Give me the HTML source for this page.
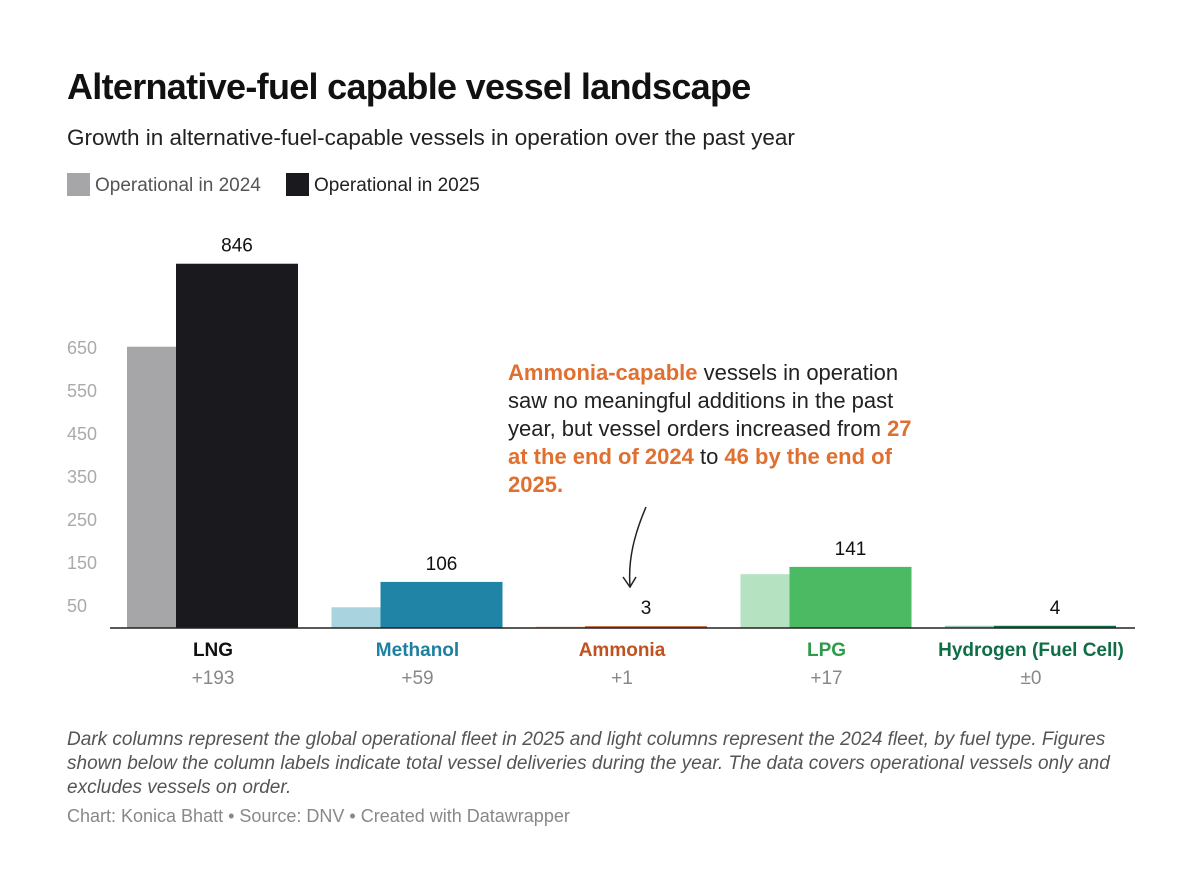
<!DOCTYPE html>
<html><head><meta charset="utf-8"><style>
body{margin:0;background:#fff;font-family:"Liberation Sans",sans-serif;}
#wrap{position:relative;width:1200px;height:894px;overflow:hidden;}
.t{position:absolute;white-space:nowrap;}
</style></head><body>
<div id="wrap">
<div class="t" style="left:67px;top:66px;font-size:36px;font-weight:bold;color:#111;letter-spacing:-0.7px">Alternative-fuel capable vessel landscape</div>
<div class="t" style="left:67px;top:125px;font-size:22.5px;color:#222">Growth in alternative-fuel-capable vessels in operation over the past year</div>
<div class="t" style="left:67px;top:173px;font-size:19px;color:#555"><span style="display:inline-block;width:23px;height:23px;background:#a6a6a8;vertical-align:-5px;margin-right:5px"></span>Operational in 2024</div>
<div class="t" style="left:286px;top:173px;font-size:19px;color:#222"><span style="display:inline-block;width:23px;height:23px;background:#1a1a1e;vertical-align:-5px;margin-right:5px"></span>Operational in 2025</div>
<svg id="chart" width="1200" height="894" style="position:absolute;left:0;top:0"></svg>
<div class="t" style="left:508px;top:359px;font-size:22px;line-height:28px;color:#222;white-space:normal;width:425px"><b style="color:#e07030">Ammonia-capable</b> vessels in operation saw no meaningful additions in the past year, but vessel orders increased from <b style="color:#e07030">27 at the end of 2024</b> to <b style="color:#e07030">46 by the end of 2025.</b></div>
<div class="t" style="left:67px;top:728px;width:1075px;white-space:normal;font-size:19px;line-height:24px;font-style:italic;color:#555">Dark columns represent the global operational fleet in 2025 and light columns represent the 2024 fleet, by fuel type. Figures shown below the column labels indicate total vessel deliveries during the year. The data covers operational vessels only and excludes vessels on order.</div>
<div class="t" style="left:67px;top:806px;font-size:18px;color:#888">Chart: Konica Bhatt • Source: DNV • Created with Datawrapper</div>
</div>
<script>
const categories=["LNG","Methanol","Ammonia","LPG","Hydrogen (Fuel Cell)"];
const values2024=[653,47,2,124,4];
const values2025=[846,106,3,141,4];
const deltas=["+193","+59","+1","+17","±0"];
const yTicks=[50,150,250,350,450,550,650];
const lightColors=["#a6a6a8","#a9d3de","#e8b9a0","#b5e2c1","#9cc9b3"];
const darkColors=["#1a1a1e","#1f84a5","#c1521f","#4cb963","#0f6e45"];
const labelColors=["#111","#1f7fa0","#c1521f","#2e9b4a","#0f6e45"];
const NS="http://www.w3.org/2000/svg";
const svg=document.getElementById("chart");
const y=v=>627.5-v*0.43;
const gx=i=>127+i*204.5;
function mk(tag,attrs,text){const e=document.createElementNS(NS,tag);for(const k in attrs)e.setAttribute(k,attrs[k]);if(text!==undefined)e.textContent=text;svg.appendChild(e);return e;}
yTicks.forEach(t=>{const e=mk("text",{x:67,y:y(t)+6,"font-size":18,fill:"#aaa","font-family":"Liberation Sans, sans-serif"},t);

});
categories.forEach((c,i)=>{
 const x=gx(i);
 const b1=mk("rect",{x:x,y:y(values2024[i]),width:49,height:Math.max(627.5-y(values2024[i]),1),fill:lightColors[i]});
 
 
 const b2=mk("rect",{x:x+49,y:y(values2025[i]),width:122,height:Math.max(627.5-y(values2025[i]),1.5),fill:darkColors[i]});
 
 
 const v=mk("text",{x:x+110,y:y(values2025[i])-12,"font-size":19,fill:"#111","text-anchor":"middle","font-family":"Liberation Sans, sans-serif"},values2025[i]);
 
 
 const l=mk("text",{x:x+86,y:656,"font-size":19,"font-weight":"bold",fill:labelColors[i],"text-anchor":"middle","font-family":"Liberation Sans, sans-serif"},c);
 
 
 const d=mk("text",{x:x+86,y:684,"font-size":19,fill:"#888","text-anchor":"middle","font-family":"Liberation Sans, sans-serif"},deltas[i]);
 
 
});
const ax=mk("line",{x1:110,y1:628,x2:1135,y2:628,stroke:"#222","stroke-width":1.5});


const ar=mk("path",{d:"M646,507 C634,535 628,560 630,586 M623,577 L630,587 L636,577",fill:"none",stroke:"#222","stroke-width":1.5});


</script>
</body></html>
